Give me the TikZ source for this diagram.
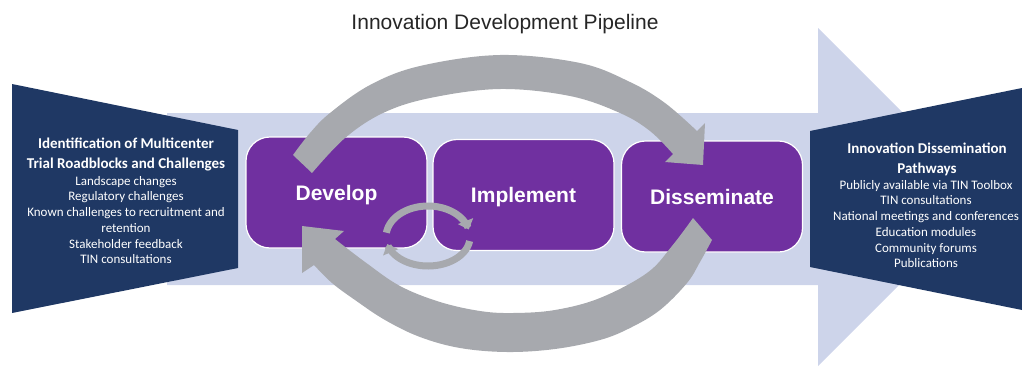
\documentclass[tikz,border=0pt]{standalone}
\usepackage{fontspec}
\setmainfont{Liberation Sans}
\newfontfamily\calibri{Carlito}
\usetikzlibrary{arrows.meta}
\definecolor{band}{HTML}{CDD4EA}
\definecolor{navy}{HTML}{1F3864}
\definecolor{boxpurple}{HTML}{7030A0}
\definecolor{arrowgray}{HTML}{A7A9AE}
\definecolor{titlegray}{HTML}{262626}
\begin{document}
\begin{tikzpicture}[x=1pt,y=-1pt,
  stagebox/.style={draw=white, line width=1.2pt, fill=boxpurple, rounded corners=24pt,
    minimum width=181pt, minimum height=111pt, inner sep=0pt},
  stagelabel/.style={text=white, font=\fontsize{21}{21}\selectfont\bfseries,
    text height=15pt, text depth=0pt, inner sep=0pt},
  sidehead/.style={text=white, align=center, inner sep=0pt,
    font=\calibri\bfseries\fontsize{15}{19.3}\selectfont},
  sidebody/.style={text=white, align=center, inner sep=0pt,
    font=\calibri\fontsize{13}{15.7}\selectfont},
  cycarrow/.style={fill=arrowgray},
  smallarc/.style={draw=arrowgray, line width=7pt,
    -{Triangle[width=16pt 0, length=9pt 0]}}
]
\useasboundingbox (0,0) rectangle (1022,367);

% title
\node[text=titlegray, font=\fontsize{21}{21}\selectfont, inner sep=0pt] (title) at (505,24) {Innovation Development Pipeline};

% big light pipeline arrow
\fill[band] (167,113) -- (818,113) -- (818,28) -- (987,197) -- (818,366) -- (818,285) -- (167,285) -- cycle;

% side trapezoids
\fill[navy] (12,84) -- (238,130) -- (238,268) -- (12,313) -- cycle;
\fill[navy] (810,131) -- (1022,88) -- (1022,310) -- (810,267) -- cycle;

% stage boxes
\node[stagebox] (develop) at (336.5,192.5) {};
\node[stagebox] (implement) at (523.5,195) {};
\node[stagebox] (disseminate) at (712,196.5) {};

% big cycle arrows
\fill[cycarrow] plot[smooth, tension=0.6] coordinates {(293,155) (310,133) (330,113) (370,85) (420,66) (500,55) (580,63) (630,82) (665,103) (697,131)}
  -- (705,123) -- (703,165) -- (665,162)
  -- plot[smooth, tension=0.6] coordinates {(673,154) (650,131) (620,113) (570,96) (500,89) (430,98) (383,113) (345,138) (312,173)} -- cycle;
\fill[cycarrow] plot[smooth, tension=0.6] coordinates {(712,240) (700,262) (687,283) (660,310) (630,328) (600,340) (555,349) (507,352) (460,348) (420,337) (385,320) (355,300) (332,283) (314,265)}
  -- (302,273) -- (302,226) -- (344,231)
  -- plot[smooth, tension=0.6] coordinates {(335,239) (365,262) (400,286) (440,302) (480,311) (513,313) (555,310) (600,298) (647,273) (672,246) (693,218)} -- cycle;

% small cycle arrows
\draw[smallarc] plot[domain=172:14, samples=40] ({428+42*cos(\x)}, {237-31*sin(\x)});
\draw[smallarc] plot[domain=-8:-166, samples=40] ({428+42*cos(\x)}, {237-29*sin(\x)});

% stage labels
\node[stagelabel] (developlabel) at (develop) {Develop};
\node[stagelabel] (implementlabel) at (implement) {Implement};
\node[stagelabel] (disseminatelabel) at (disseminate) {Disseminate};

% side texts
\node[sidehead] (lefthead) at (126,154.5) {Identification of Multicenter\\Trial Roadblocks and Challenges};
\node[sidebody] (leftbody) at (126,220) {Landscape changes\\Regulatory challenges\\Known challenges to recruitment and\\retention\\Stakeholder feedback\\TIN consultations};
\node[sidehead] (righthead) at (927,159.5) {Innovation Dissemination\\Pathways};
\node[sidebody] (rightbody) at (926,224) {Publicly available via TIN Toolbox\\TIN consultations\\National meetings and conferences\\Education modules\\Community forums\\Publications};
\end{tikzpicture}
\end{document}
